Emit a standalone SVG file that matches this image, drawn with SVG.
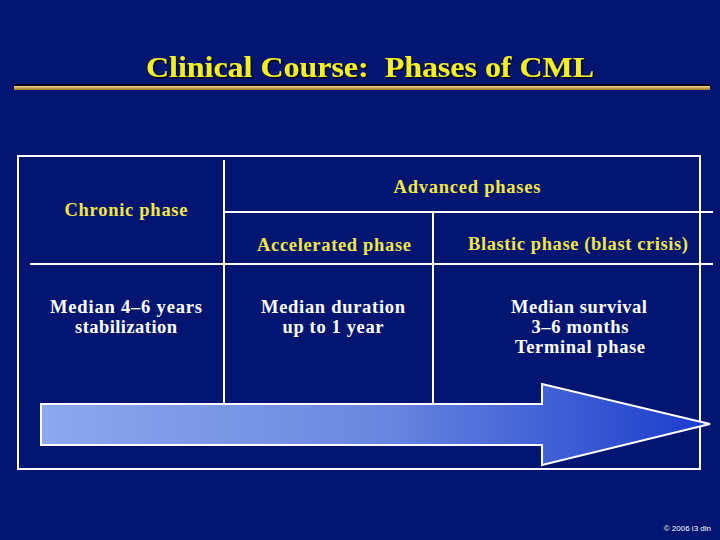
<svg xmlns="http://www.w3.org/2000/svg" width="720" height="540" viewBox="0 0 720 540">
<defs>
<linearGradient id="bar" x1="0" y1="0" x2="0" y2="1">
<stop offset="0" stop-color="#f2dc98"/>
<stop offset="0.5" stop-color="#c8a24a"/>
<stop offset="1" stop-color="#9a7a30"/>
</linearGradient>
<linearGradient id="arr" x1="40" y1="0" x2="710" y2="0" gradientUnits="userSpaceOnUse">
<stop offset="0" stop-color="#8ca8ee"/>
<stop offset="0.5" stop-color="#6b88e0"/>
<stop offset="1" stop-color="#1a3ccc"/>
</linearGradient>
<filter id="sh" x="-5%" y="-20%" width="110%" height="140%">
<feDropShadow dx="1.5" dy="1.5" stdDeviation="0.3" flood-color="#000000" flood-opacity="0.8"/>
</filter>
</defs>
<style>
.hd{font-family:"Liberation Serif","Times New Roman",serif;font-weight:bold;font-size:18.5px;fill:#f2e44a;text-anchor:middle}
.bd{font-family:"Liberation Serif","Times New Roman",serif;font-weight:bold;font-size:18.5px;fill:#ffffff;text-anchor:middle}
.ln{stroke:#ffffff;stroke-width:2;fill:none}
</style>
<rect width="720" height="540" fill="#021671"/>
<g id="title">
<text x="370" y="77" xml:space="preserve" textLength="448" lengthAdjust="spacingAndGlyphs" filter="url(#sh)" font-family="'Liberation Serif','Times New Roman',serif" font-weight="bold" font-size="30" fill="#f5ee20" text-anchor="middle">Clinical Course:  Phases of CML</text>
<rect x="14" y="84" width="697" height="3" fill="#000000" opacity="0.8"/>
<rect x="14" y="86" width="696" height="4" fill="url(#bar)"/>
</g>
<g id="connectors">
<rect class="ln" x="18" y="156" width="682" height="313"/>
<line class="ln" x1="224" y1="160" x2="224" y2="404"/>
<line class="ln" x1="224" y1="212" x2="713" y2="212"/>
<line class="ln" x1="30" y1="264" x2="713" y2="264"/>
<line class="ln" x1="433" y1="212" x2="433" y2="404"/>
</g>
<g id="arrow">
<polygon points="41,404 542,404 542,384 710,424 542,465 542,445 41,445" fill="url(#arr)" stroke="#ffffff" stroke-width="2"/>
</g>
<g id="advanced"><text class="hd" x="467" y="193" textLength="147" lengthAdjust="spacing">Advanced phases</text></g>
<g id="chronic"><text class="hd" x="126" y="216" textLength="123" lengthAdjust="spacing">Chronic phase</text></g>
<g id="accelerated"><text class="hd" x="334" y="251" textLength="154" lengthAdjust="spacing">Accelerated phase</text></g>
<g id="blastic"><text class="hd" x="578" y="250" textLength="220" lengthAdjust="spacing">Blastic phase (blast crisis)</text></g>
<g id="chronic-desc">
<text class="bd" x="126" y="313" textLength="152" lengthAdjust="spacing">Median 4–6 years</text>
<text class="bd" x="126" y="333" textLength="102" lengthAdjust="spacing">stabilization</text>
</g>
<g id="accel-desc">
<text class="bd" x="333" y="313" textLength="144" lengthAdjust="spacing">Median duration</text>
<text class="bd" x="333" y="333" textLength="101" lengthAdjust="spacing">up to 1 year</text>
</g>
<g id="blastic-desc">
<text class="bd" x="579" y="313" textLength="136" lengthAdjust="spacing">Median survival</text>
<text class="bd" x="580" y="333" textLength="97" lengthAdjust="spacing">3–6 months</text>
<text class="bd" x="580" y="353" textLength="130" lengthAdjust="spacing">Terminal phase</text>
</g>
<text x="711" y="531" font-family="'Liberation Sans',Arial,sans-serif" font-size="8" fill="#ffffff" text-anchor="end">© 2006 i3 dln</text>
</svg>
